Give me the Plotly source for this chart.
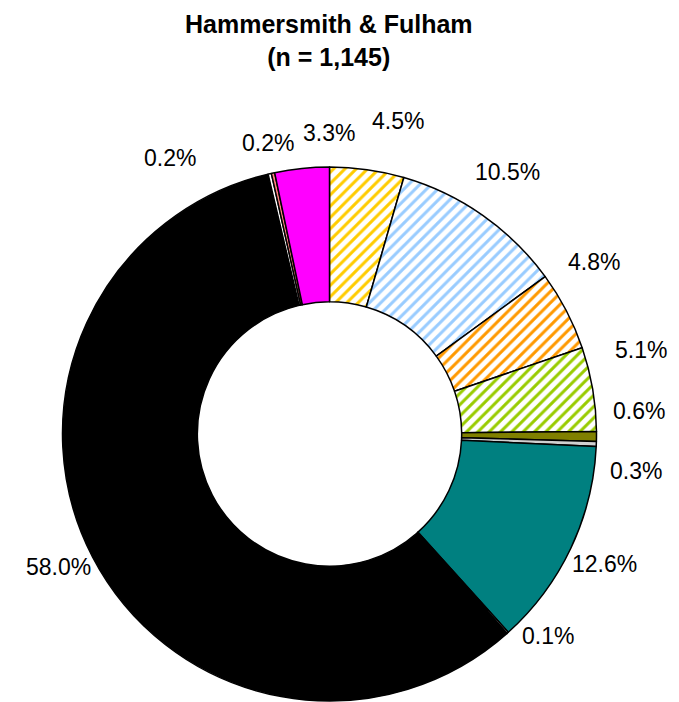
import plotly.graph_objects as go

categories = ["Cat A", "Cat B", "Cat C", "Cat D", "Cat E", "Cat F",
              "Cat G", "Cat H", "Cat I", "Cat J", "Cat K", "Cat L"]
values = [4.5, 10.5, 4.8, 5.1, 0.6, 0.3, 12.6, 0.1, 58.0, 0.2, 0.2, 3.3]
value_labels = ["4.5%", "10.5%", "4.8%", "5.1%", "0.6%", "0.3%",
                "12.6%", "0.1%", "58.0%", "0.2%", "0.2%", "3.3%"]
colors = ["#FFCC00", "#99CCFF", "#FF9900", "#99CC00", "#808000", "#D0D0D0",
          "#008080", "#FFFFFF", "#000000", "#FFFFFF", "#FF8080", "#FF00FF"]
shapes = ["/", "/", "/", "/", "", "", "", "", "", "", "", ""]
# label positions (page pixels in a 679x702 window)
label_px = [(398, 121), (507, 172), (594, 262), (641, 350), (639, 411), (636, 471),
            (604, 564), (548, 636), (58, 567), (170, 158), (268, 143), (329, 133)]

OFF = 8  # page body margin
W, H = 679 - OFF, 702 - OFF


def fx(px):
    return (px - OFF) / W


def fy(py):
    return 1 - (py - OFF) / H


FONT = "Liberation Sans, Arial, sans-serif"

fig = go.Figure(go.Pie(
    labels=categories, values=values, sort=False, direction="clockwise",
    rotation=0, hole=0.495, textinfo="none", hoverinfo="label+percent",
    marker=dict(colors=colors, line=dict(color="black", width=1.5),
                pattern=dict(shape=shapes, fgcolor=colors,
                             bgcolor="white", size=8, solidity=0.38,
                             fillmode="replace")),
    domain=dict(x=[fx(62), fx(597)], y=[max(0, fy(701)), fy(167)]),
    showlegend=False,
))

for (px, py), t in zip(label_px, value_labels):
    fig.add_annotation(x=fx(px), y=fy(py), xref="paper", yref="paper",
                       text=t, showarrow=False, xanchor="center", yanchor="middle",
                       font=dict(family=FONT, size=23, color="black"))

fig.add_annotation(x=fx(329), y=fy(40), xref="paper", yref="paper",
                   text="<b>Hammersmith & Fulham</b><br><b>(n = 1,145)</b>",
                   showarrow=False, xanchor="center", yanchor="middle",
                   font=dict(family=FONT, size=25, color="black"))

fig.update_layout(width=W, height=H, margin=dict(l=0, r=0, t=0, b=0),
                  paper_bgcolor="white", plot_bgcolor="white")

fig.write_html("out.html")
